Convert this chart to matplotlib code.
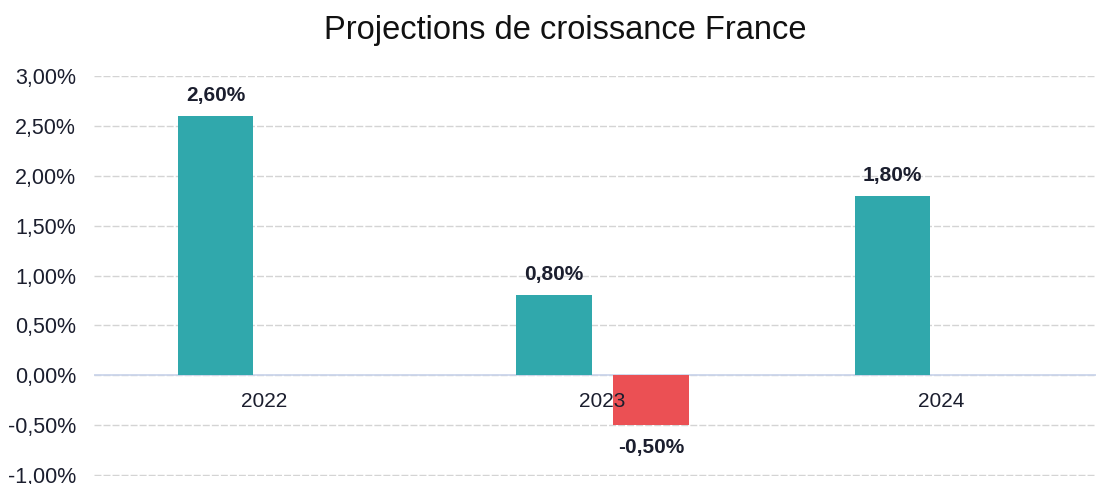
import matplotlib
matplotlib.use("Agg")
import matplotlib.pyplot as plt
import numpy as np

plt.rcParams['font.family'] = ['Liberation Sans', 'DejaVu Sans']

years = ["2022", "2023", "2024"]
croissance = [2.6, 0.8, 1.8]
revision = [np.nan, -0.5, np.nan]
yticks = [-1.0, -0.5, 0.0, 0.5, 1.0, 1.5, 2.0, 2.5, 3.0]
title = "Projections de croissance France"

teal = "#30A8AC"
red = "#EB5054"
txt = "#1B1E2E"

fig = plt.figure(figsize=(10.97, 4.84), dpi=100)
ax = fig.add_axes([94/1097, 8/484, 1002/1097, 400/484])

x = np.arange(len(years))
w = 0.224
off = 0.143
ax.bar(x - off, croissance, w, color=teal, zorder=3)
ax.bar(x + off, revision, w, color=red, zorder=3)

def fmt(v):
    return f"{v:.2f}".replace(".", ",") + "%"

for xi, v in zip(x - off, croissance):
    if not np.isnan(v):
        ax.annotate(fmt(v), (xi, v), xytext=(0, 8), textcoords="offset points",
                    ha="center", va="bottom", fontsize=15, fontweight="bold", color=txt, zorder=5)
for xi, v in zip(x + off, revision):
    if not np.isnan(v):
        ax.annotate(fmt(v), (xi, v), xytext=(0, -9), textcoords="offset points",
                    ha="center", va="top", fontsize=15, fontweight="bold", color=txt, zorder=5)

for xi, lab in zip(x, years):
    ax.annotate(lab, (xi, 0), xytext=(0, -19), textcoords="offset points",
                ha="center", va="center", fontsize=15, color=txt, zorder=5)

ax.set_xlim(-0.502, 2.458)
ax.set_ylim(-1.01, 3.0)
ax.set_yticks(yticks)
ax.set_yticklabels([fmt(v) for v in yticks], fontsize=15.5, color=txt)
ax.tick_params(axis="y", length=0, pad=13)
ax.set_xticks([])
for s in ax.spines.values():
    s.set_visible(False)
ax.yaxis.grid(True, color="#d4d4d4", linestyle=(0, (5, 1.5)), linewidth=1.0, zorder=0)
ax.axhline(0, color="#c8d3ea", linewidth=1.2, zorder=2)

fig.text(565/1097, 1 - 30/484, title, ha="center", va="center", fontsize=23.5, color="#111111")

fig.savefig("out.png", dpi=100)
